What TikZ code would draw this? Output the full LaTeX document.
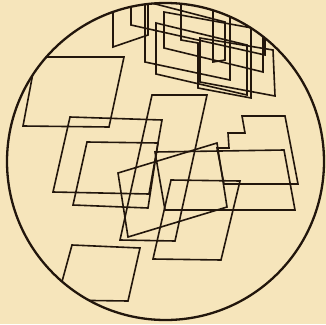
\documentclass[tikz,border=0pt]{standalone}
\definecolor{bg}{RGB}{246,229,187}
\definecolor{ink}{RGB}{34,22,12}
\begin{document}
\begin{tikzpicture}[x=1pt,y=-1pt,
  shp/.style={draw=ink,line width=1.6pt,line join=miter},
  rim/.style={draw=ink,line width=2.3pt}]
\fill[bg] (0,0) rectangle (326,324);
\useasboundingbox (0,0) rectangle (326,324);
\begin{scope}
\clip (165.5,161.5) circle (158.5);
% top cluster
\draw[shp] (113,-5) -- (113,47) -- (148,35) -- (148,-5) -- cycle;
\draw[shp] (131,-5) -- (131,25) -- (265,55) -- (265,-5) -- cycle;
\draw[shp] (145,-5) -- (145,62) -- (230,80) -- (230,-5) -- cycle;
\draw[shp] (156,23) -- (156,74) -- (247,95) -- (247,45) -- cycle;
\draw[shp] (181,-5) -- (181,40) -- (198,43) -- (198,88) -- (251,98) -- (251,-5) -- cycle;
\draw[shp] (164,12) -- (164,48) -- (263,72) -- (263,30) -- cycle;
\draw[shp] (213,-5) -- (213,62) -- (225,60) -- (225,22) -- (140,0) -- cycle;
\draw[shp] (200,38) -- (273,50) -- (275,96) -- (200,82) -- cycle;
% upper left
\draw[shp] (36,57) -- (124,57) -- (109,127) -- (23,126) -- cycle;
\draw[shp] (70,117) -- (162,120) -- (149,194) -- (53,192) -- cycle;
\draw[shp] (87,142) -- (158,143) -- (148,208) -- (73,205) -- cycle;
% tall parallelogram
\draw[shp] (152,95) -- (207,95) -- (175,241) -- (120,240) -- cycle;
% staircase
\draw[shp] (242,116) -- (285,116) -- (298,184) -- (224,184) -- (217,148) -- (229,148) -- (228,133) -- (245,133) -- cycle;
% wide
\draw[shp] (155,152) -- (284,150) -- (295,210) -- (165,210) -- cycle;
% rect
\draw[shp] (171,180) -- (240,181) -- (221,260) -- (153,259) -- cycle;
% tilted square
\draw[shp] (118,173) -- (217,143) -- (227,207) -- (128,237) -- cycle;
% lower left
\draw[shp] (72,245) -- (140,248) -- (128,301) -- (57,300) -- cycle;
\end{scope}
\draw[rim] (165.5,161.5) circle (158.5);
\end{tikzpicture}
\end{document}
